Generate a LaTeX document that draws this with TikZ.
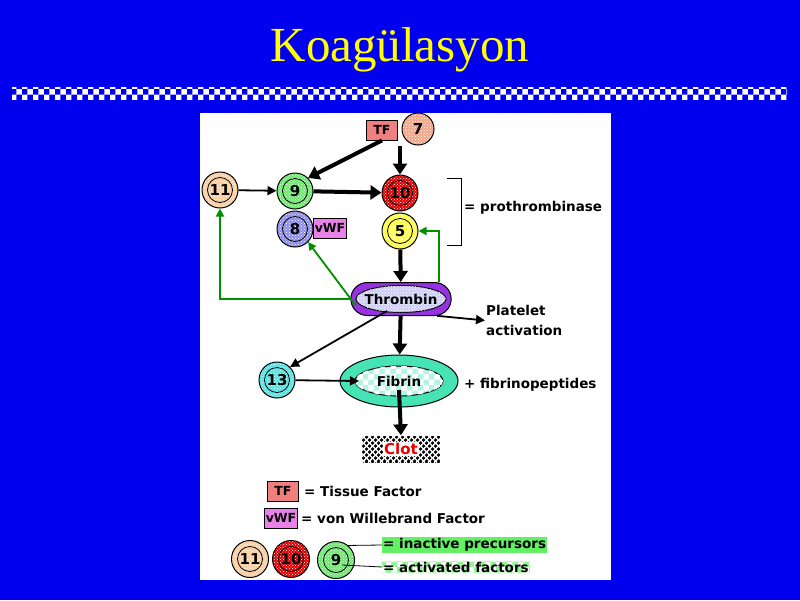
\documentclass[tikz,border=0pt]{standalone}
\usepackage{fontspec}
\setmainfont{Liberation Serif}
\newfontfamily\genevafont{DejaVu Sans}
\usetikzlibrary{arrows.meta,patterns,shapes.geometric,shapes.misc}

\definecolor{bgblue}{RGB}{0,0,238}
\definecolor{titleyellow}{RGB}{255,255,0}
\definecolor{tfred}{RGB}{240,128,128}
\definecolor{sevenred}{RGB}{240,165,135}
\definecolor{elevenbeige}{RGB}{250,205,160}
\definecolor{ninegreen}{RGB}{110,232,110}
\definecolor{tenred}{RGB}{225,0,0}
\definecolor{eightblue}{RGB}{140,140,232}
\definecolor{vwfpink}{RGB}{232,130,232}
\definecolor{fiveyellow}{RGB}{255,255,70}
\definecolor{thirteencyan}{RGB}{80,228,228}
\definecolor{thrombinpurple}{RGB}{150,50,225}
\definecolor{thrombinlight}{RGB}{205,205,245}
\definecolor{fibrinaqua}{RGB}{70,228,180}
\definecolor{loopgreen}{RGB}{0,145,0}
\definecolor{hlgreen}{RGB}{100,240,100}
\definecolor{clotred}{RGB}{235,0,0}

\newcommand{\lblfont}{\genevafont\bfseries\fontsize{13.5}{20}\selectfont}
\newcommand{\numfont}{\genevafont\bfseries\fontsize{15}{16}\selectfont}

\tikzset{
  lbl/.style={font=\lblfont, inner sep=1pt},
  tagbox/.style={rectangle, draw, line width=0.8pt, fill=#1, minimum width=31pt,
    minimum height=20pt, inner sep=1pt, font=\genevafont\bfseries\fontsize{12.5}{13}\selectfont},
  dotfill/.style={path picture={\fill[pattern=crosshatch dots, pattern color=white]
    (path picture bounding box.south west) rectangle (path picture bounding box.north east);}},
  factor/.style={circle, draw, line width=1pt, minimum size=36pt, inner sep=0pt, fill=#1,
    font=\numfont,
    path picture={\fill[pattern=crosshatch dots, pattern color=white]
      (path picture bounding box.south west) rectangle (path picture bounding box.north east);
      \draw[line width=0.8pt] (path picture bounding box.center) circle (12.5pt);}},
  bigarrow/.style={line width=4pt, -{Triangle[length=11pt,width=14pt]}},
  smallarrow/.style={line width=1.8pt, -{Triangle[length=9pt,width=9pt]}},
  greenarrow/.style={line width=1.8pt, loopgreen, -{Triangle[length=8pt,width=8pt]}},
}

\begin{document}
\begin{tikzpicture}[x=1pt,y=-1pt]
\fill[bgblue] (0,0) rectangle (800,600);
\useasboundingbox (0,0) rectangle (800,600);

% title and band
\node[text=titleyellow, font=\fontsize{49}{52}\selectfont] (title) at (400,50) {Koagülasyon};
\fill[pattern=checkerboard, pattern color=white] (12,87) rectangle (787,99);
\fill[white] (200,113) rectangle (611,580);

% factors
\node[tagbox=tfred] (tf) at (382,130) {TF};
\node[tagbox=vwfpink, minimum width=33pt] (vwf) at (330,228) {vWF};
\node[factor=sevenred, minimum size=32pt, dotfill] (n7) at (418,129) {7};
\foreach \nm/\num/\col/\pos in {n11/11/elevenbeige/{(220,190)}, n9/9/ninegreen/{(295,191)},
    n10/10/tenred/{(400,193)}, n8/8/eightblue/{(295,229)}, n5/5/fiveyellow/{(400,231)},
    n13/13/thirteencyan/{(277,380)}}
{
    \node[factor=\col] (\nm) at \pos {\num};
}

% prothrombinase bracket
\draw[line width=1pt] (447,178) -- (461,178) -- (461,245) -- (447,245);
\node[lbl, anchor=west] (prothr) at (463,208) {= prothrombinase};

% thrombin, fibrin, clot
\node[rounded rectangle, draw, line width=1pt, fill=thrombinpurple, minimum width=107pt,
    minimum height=33pt, font=\lblfont,
    path picture={\draw[fill=thrombinlight] (path picture bounding box.center) ellipse (45pt and 13.5pt);
    \fill[pattern=crosshatch dots, pattern color=white] (path picture bounding box.center) ellipse (45pt and 13.5pt);}]
    (thrombin) at (401,299) {Thrombin};
\node[ellipse, draw, line width=1pt, fill=fibrinaqua, minimum width=118pt, minimum height=52pt,
    font=\lblfont,
    path picture={\draw[fill=fibrinaqua!40] (path picture bounding box.center) ellipse (44pt and 15pt);
    \fill[pattern=checkerboard, pattern color=white] (path picture bounding box.center) ellipse (44pt and 15pt);}]
    (fibrin) at (399,381) {Fibrin};
\node[minimum width=78pt, minimum height=27pt, fill=black,
    path picture={\foreach \k in {-30,-24,...,110}
      {\draw[white, line width=1.4pt] ([xshift=\k pt]path picture bounding box.south west) -- ++(30pt,30pt);
       \draw[white, line width=1.4pt] ([xshift=\k pt+3pt]path picture bounding box.south west) -- ++(-30pt,30pt);}}]
    (clot) at (401,449) {};
\node[fill=white, inner sep=1pt, text=clotred, font=\genevafont\bfseries\fontsize{15}{16}\selectfont] (clotlbl) at (clot) {Clot};
\node[lbl, anchor=north west, align=left] (platelet) at (485,304) {Platelet\\activation};
\node[lbl, anchor=west] (fibpep) at (463,385) {+ fibrinopeptides};

% black arrows
\draw[bigarrow] (tf.south) -- (n9.north east);
\draw[bigarrow] (n10 |- n7.south) -- (n10.north);
\draw[smallarrow] (n11) -- (n9);
\draw[bigarrow] (n9) -- (n10);
\draw[bigarrow] (n5) -- (thrombin);
\draw[bigarrow] (thrombin) -- (fibrin);
\draw[bigarrow] ([yshift=-9pt]fibrin.center) -- (clot.north);
\draw[smallarrow] ([shift={(-14pt,-12pt)}]thrombin.center) -- (n13.north east);
\draw[smallarrow] (n13) -- ([xshift=-40pt]fibrin.center);
\draw[smallarrow] (thrombin.-25) -- (platelet.west);

% green feedback
\draw[greenarrow] (thrombin.west) -| (n11.south);
\draw[greenarrow] ([shift={(-45pt,-7pt)}]thrombin.center) -- (n8.south east);
\draw[greenarrow] ([xshift=38pt]thrombin.north) |- (n5.east);

% legend
\node[tagbox=tfred] (lgtf) at (283,491) {TF};
\node[lbl, anchor=west] (lgtftxt) at (303,491) {= Tissue Factor};
\node[tagbox=vwfpink, minimum width=33pt] (lgvwf) at (281,518) {vWF};
\node[lbl, anchor=west] (lgvwftxt) at (300,518) {= von Willebrand Factor};
\foreach \nm/\num/\col/\pos in {lg11/11/elevenbeige/{(250,559)}, lg10/10/tenred/{(291,559)},
    lg9/9/ninegreen/{(336,560)}}
{
    \node[factor=\col, minimum size=37pt] (\nm) at \pos {\num};
}
\node[lbl, fill=hlgreen, anchor=west] (inactive) at (382,545) {= inactive precursors};
\node[lbl, fill=hlgreen!70, anchor=west,
    path picture={\fill[pattern=checkerboard, pattern color=white]
    (path picture bounding box.south west) rectangle (path picture bounding box.north east);}]
    (activated) at (382,567) {= activated factors};
\draw[line width=0.8pt] (lg9.50) -- (inactive.west);
\draw[line width=0.8pt] ([shift={(6pt,-5pt)}]lg9.center) -- (activated.west);
\end{tikzpicture}
\end{document}
